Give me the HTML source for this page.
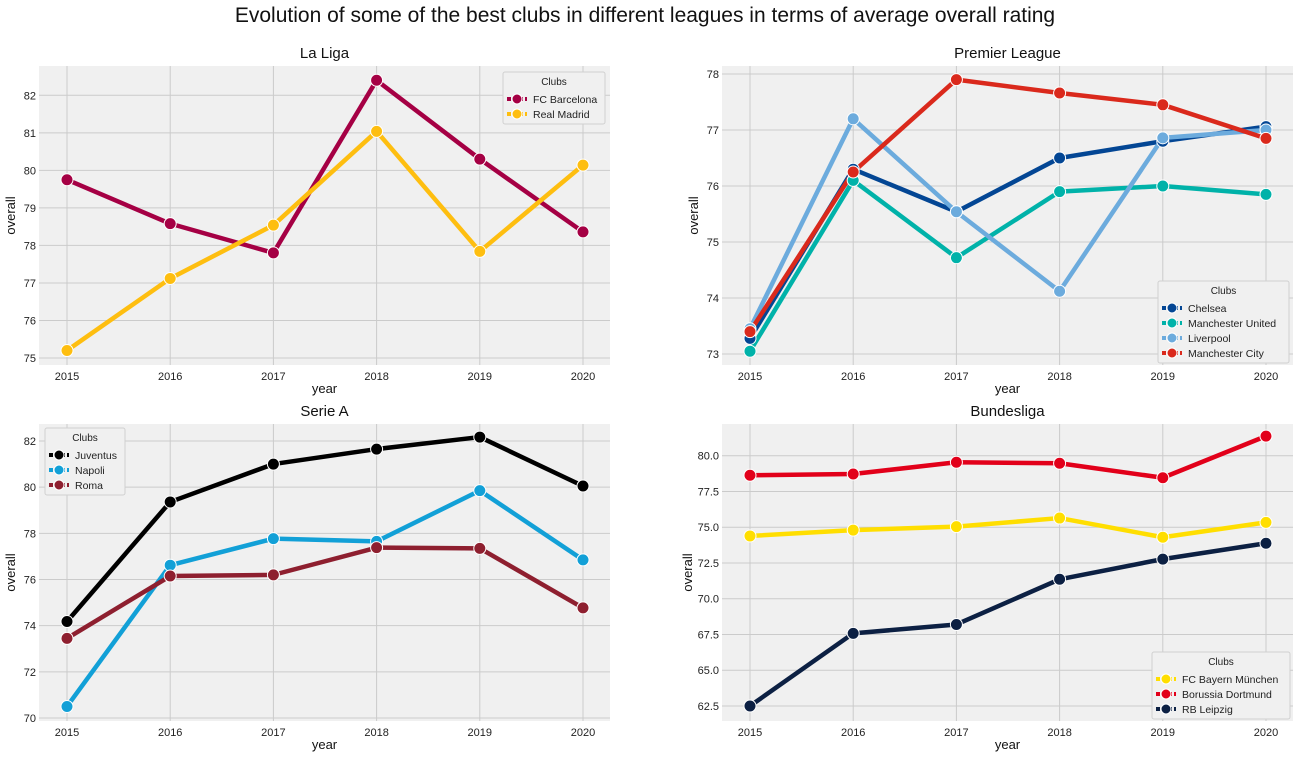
<!DOCTYPE html>
<html><head><meta charset="utf-8"><style>
body{margin:0;background:#fff;font-family:"Liberation Sans","DejaVu Sans",sans-serif}
svg{display:block}
</style></head><body>
<svg id="fig" width="1300" height="757">
<text x="645" y="22" text-anchor="middle" font-size="21" fill="#111">Evolution of some of the best clubs in different leagues in terms of average overall rating</text>
</svg>
<script>
const years=[2015,2016,2017,2018,2019,2020];
const laligaClubs=["FC Barcelona","Real Madrid"];
const laligaBarcelona=[79.75,78.58,77.8,82.4,80.3,78.36];
const laligaReal=[75.2,77.12,78.54,81.04,77.84,80.14];
const plClubs=["Chelsea","Manchester United","Liverpool","Manchester City"];
const plChelsea=[73.28,76.3,75.54,76.5,76.8,77.06];
const plUnited=[73.05,76.1,74.72,75.9,76.0,75.85];
const plLiverpool=[73.45,77.2,75.54,74.12,76.86,77.0];
const plCity=[73.4,76.25,77.9,77.66,77.45,76.85];
const seriaClubs=["Juventus","Napoli","Roma"];
const serieJuve=[74.18,79.36,81.0,81.65,82.17,80.05];
const serieNapoli=[70.5,76.62,77.77,77.65,79.85,76.85];
const serieRoma=[73.45,76.15,76.2,77.38,77.35,74.77];
const bundClubs=["FC Bayern München","Borussia Dortmund","RB Leipzig"];
const bundBayern=[74.39,74.8,75.04,75.64,74.3,75.34];
const bundDortmund=[78.63,78.72,79.54,79.47,78.46,81.37];
const bundLeipzig=[62.5,67.58,68.2,71.36,72.77,73.88];
const laligaTicks=[75,76,77,78,79,80,81,82];
const plTicks=[73,74,75,76,77,78];
const serieTicks=[70,72,74,76,78,80,82];
const bundTicks=[62.5,65,67.5,70,72.5,75,77.5,80];

const NS="http://www.w3.org/2000/svg";
const svg=document.getElementById('fig');
function mk(tag,attrs,parent){const e=document.createElementNS(NS,tag);for(const k in attrs)e.setAttribute(k,attrs[k]);(parent||svg).appendChild(e);return e;}

function panel(cfg){
  const g=mk('g',{});
  
  
  const {x0,x1,y0,y1}=cfg;
  const bg=mk('rect',{x:x0,y:y0,width:x1-x0,height:y1-y0,fill:'#f0f0f0'},g);
  
  
  const xs=v=>cfg.xa+(v-2015)*(cfg.xb-cfg.xa)/5;
  const ys=v=>cfg.ya+(v-cfg.va)*(cfg.yb-cfg.ya)/(cfg.vb-cfg.va);
  years.forEach(yr=>{
    const l=mk('line',{x1:xs(yr),x2:xs(yr),y1:y0,y2:y1,stroke:'#cbcbcb','stroke-width':1},g);
    
    
    const t=mk('text',{x:xs(yr),y:y1+15,'text-anchor':'middle','font-size':11,fill:'#222'},g);
    t.textContent=yr;
    
    
  });
  cfg.ticks.forEach(v=>{
    const l=mk('line',{x1:x0,x2:x1,y1:ys(v),y2:ys(v),stroke:'#cbcbcb','stroke-width':1},g);
    
    
    const t=mk('text',{x:x0-3,y:ys(v)+4,'text-anchor':'end','font-size':11,fill:'#222'},g);
    t.textContent=cfg.fmt?v.toFixed(1):v;
    
    
  });
  const tt=mk('text',{x:(x0+x1)/2,y:y0-8,'text-anchor':'middle','font-size':15,fill:'#111'},g);
  tt.textContent=cfg.title;
  
  
  const xl=mk('text',{x:(x0+x1)/2,y:y1+28,'text-anchor':'middle','font-size':13,fill:'#111'},g);
  xl.textContent='year';
  
  
  const yx=x0-cfg.ylOff;
  const yl=mk('text',{x:yx,y:(y0+y1)/2,'text-anchor':'middle','font-size':13,fill:'#111',transform:`rotate(-90 ${yx} ${(y0+y1)/2})`},g);
  yl.textContent='overall';
  
  
  cfg.series.forEach((s,i)=>{
    const pts=s.vals.map((v,j)=>xs(years[j])+','+ys(v)).join(' ');
    const pl=mk('polyline',{points:pts,fill:'none',stroke:s.color,'stroke-width':4.5,'stroke-linejoin':'round'},g);
    
    
  });
  cfg.series.forEach(s=>{
    s.vals.forEach((v,j)=>{
      const c=mk('circle',{cx:xs(years[j]),cy:ys(v),r:6,fill:s.color,stroke:'#fff','stroke-width':1},g);
      
      
    });
  });
  const L=cfg.legend;
  const lg=mk('g',{},g);
  
  
  mk('rect',{x:L.x,y:L.y,width:L.w,height:22+cfg.series.length*15,fill:'#f0f0f0',stroke:'#d0d0d0',rx:2},lg);
  const lt=mk('text',{x:L.x+L.w/2,y:L.y+13,'text-anchor':'middle','font-size':10,fill:'#222'},lg);
  lt.textContent='Clubs';
  
  
  cfg.series.forEach((s,i)=>{
    const yy=L.y+27+i*15;
    const e=mk('g',{},lg);
    
    
    mk('line',{x1:L.x+4,x2:L.x+24,y1:yy,y2:yy,stroke:s.color,'stroke-width':4,'stroke-dasharray':'4 2'},e);
    mk('circle',{cx:L.x+14,cy:yy,r:5,fill:s.color,stroke:'#fff','stroke-width':1},e);
    const t=mk('text',{x:L.x+30,y:yy+4,'font-size':10.5,fill:'#222'},e);
    t.textContent=s.label;
  });
}

panel({name:'la-liga-panel',title:'La Liga',x0:39,x1:610,y0:66,y1:365,xa:67,xb:583,va:75,vb:82,ya:358,yb:95.3,ticks:laligaTicks,ylOff:24,
  series:[{label:laligaClubs[0],vals:laligaBarcelona,color:'#a50044'},{label:laligaClubs[1],vals:laligaReal,color:'#febe10'}],
  legend:{x:503,y:72,w:102}});
panel({name:'premier-league-panel',title:'Premier League',x0:722,x1:1293,y0:66,y1:365,xa:750,xb:1266,va:73,vb:78,ya:354,yb:74,ticks:plTicks,ylOff:24,
  series:[{label:plClubs[0],vals:plChelsea,color:'#034694'},{label:plClubs[1],vals:plUnited,color:'#00b2a9'},{label:plClubs[2],vals:plLiverpool,color:'#6cabdd'},{label:plClubs[3],vals:plCity,color:'#da291c'}],
  legend:{x:1158,y:281,w:131}});
panel({name:'serie-a-panel',title:'Serie A',x0:39,x1:610,y0:424,y1:721,xa:67,xb:583,va:70,vb:82,ya:718,yb:441,ticks:serieTicks,ylOff:24,
  series:[{label:seriaClubs[0],vals:serieJuve,color:'#000000'},{label:seriaClubs[1],vals:serieNapoli,color:'#12a0d7'},{label:seriaClubs[2],vals:serieRoma,color:'#8e1f2f'}],
  legend:{x:45,y:428,w:80}});
panel({name:'bundesliga-panel',title:'Bundesliga',x0:722,x1:1293,y0:424,y1:721,xa:750,xb:1266,va:62.5,vb:80,ya:706,yb:455.7,ticks:bundTicks,fmt:true,ylOff:30,
  series:[{label:bundClubs[0],vals:bundBayern,color:'#ffde00'},{label:bundClubs[1],vals:bundDortmund,color:'#e2001a'},{label:bundClubs[2],vals:bundLeipzig,color:'#0c2043'}],
  legend:{x:1152,y:652,w:138}});
</script>
</body></html>
